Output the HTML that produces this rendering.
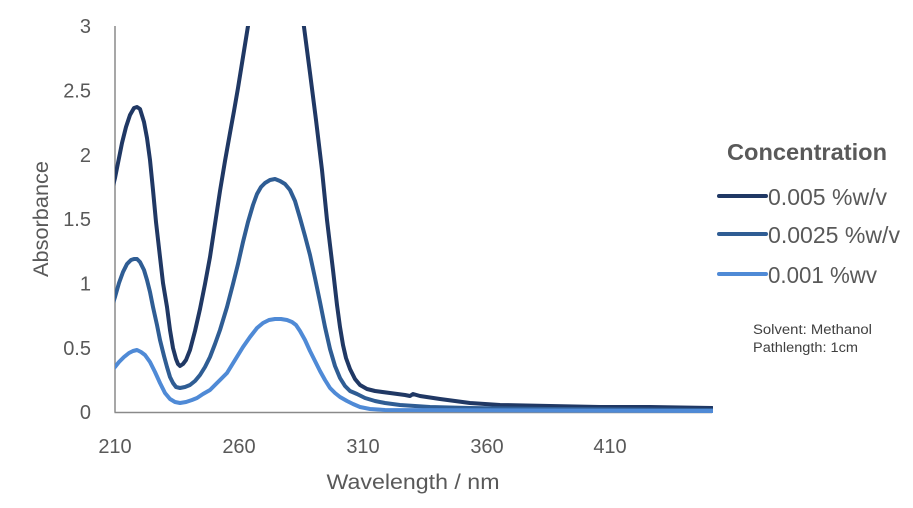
<!DOCTYPE html>
<html>
<head>
<meta charset="utf-8">
<style>
html,body{margin:0;padding:0;background:#fff;}
svg{display:block;}
text{font-family:"Liberation Sans",sans-serif;fill:#595959;}
</style>
</head>
<body>
<svg width="913" height="508" viewBox="0 0 913 508" xmlns="http://www.w3.org/2000/svg">
<rect width="913" height="508" fill="#fff"/>
<defs>
<clipPath id="pa"><rect x="115" y="26" width="598" height="395"/></clipPath>
</defs>

<!-- axes -->
<line x1="115" y1="26" x2="115" y2="412.5" stroke="#8a8a8a" stroke-width="1.5"/>
<line x1="114.5" y1="412.5" x2="712" y2="412.5" stroke="#8a8a8a" stroke-width="1.5"/>

<!-- y tick labels -->
<g font-size="20" text-anchor="end">
<text x="91" y="33">3</text>
<text x="91" y="97.5">2.5</text>
<text x="91" y="162">2</text>
<text x="91" y="226">1.5</text>
<text x="91" y="290.5">1</text>
<text x="91" y="355">0.5</text>
<text x="91" y="419">0</text>
</g>

<!-- x tick labels -->
<g font-size="20" text-anchor="middle">
<text x="115" y="453">210</text>
<text x="239" y="453">260</text>
<text x="363" y="453">310</text>
<text x="487" y="453">360</text>
<text x="610" y="453">410</text>
</g>

<text x="413" y="489" font-size="21" text-anchor="middle" textLength="173" lengthAdjust="spacingAndGlyphs">Wavelength / nm</text>
<text transform="translate(48,219) rotate(-90)" font-size="21" text-anchor="middle" textLength="116" lengthAdjust="spacingAndGlyphs">Absorbance</text>

<!-- series -->
<g clip-path="url(#pa)" fill="none" stroke-width="4" stroke-linejoin="round" stroke-linecap="round">
<polyline stroke="#203864" points="113,186 115,178 118,163 122,143 126,127 130,115 134,108 137,107 140,109 144,122 147,138 150,160 153,190 156,222 160,257 163,283 167,307 170,330 173,348 176,359 178,364 180,366 183,364 186,360 190,350 195,331 200,309 205,284 210,257 215,224 220,191 225,161 230,133 234,111 238,88 243,57 248,26 253,-8 260,-40 268,-55 276,-58 285,-52 293,-35 299,-8 304,27 310,73 316,120 322,170 327,220 333,270 337,305 340,327 343,345 346,358 350,369 355,379 360,385 367,389 375,391 390,393 405,395 410,396 413,394 420,396 440,399 470,403 500,405 550,406 600,407 650,407 712,408"/>
<polyline stroke="#2F5D94" points="113,303 115,297 119,283 123,272 127,264 131,260 134,259 137,259 140,262 144,270 147,280 150,292 153,307 157,325 160,340 164,356 167,367 170,377 173,383 176,387 180,388 185,387 190,385 195,381 200,375 205,367 210,357 215,344 220,330 227,307 233,284 238,264 243,242 248,222 253,205 257,194 261,187 265,183 270,180 275,179 280,181 285,184 290,190 295,201 300,218 305,236 310,255 315,278 320,302 325,327 330,349 335,366 340,378 345,386 350,391 357,394 365,398 375,401 385,403 400,405 430,407 470,408 550,409 712,410"/>
<polyline stroke="#4F8AD6" points="113,369 115,367 119,362 124,357 129,353 133,351 137,350 141,352 145,355 150,362 155,372 160,383 165,393 170,399 175,402 180,403 186,402 192,400 197,398 203,394 210,390 218,382 227,373 235,360 243,347 250,337 257,328 263,323 269,320 275,319 281,319 287,320 292,322 296,325 300,331 305,340 310,351 315,361 320,371 325,380 330,388 335,393 340,397 347,401 353,404 360,407 370,409 385,410 712,411"/>
</g>

<!-- legend -->
<text x="727" y="160" font-size="23" font-weight="bold" textLength="160" lengthAdjust="spacingAndGlyphs">Concentration</text>
<g stroke-width="4" stroke-linecap="round">
<line x1="719" y1="196" x2="766" y2="196" stroke="#203864"/>
<line x1="719" y1="234" x2="766" y2="234" stroke="#2F5D94"/>
<line x1="719" y1="274" x2="766" y2="274" stroke="#4F8AD6"/>
</g>
<g font-size="23">
<text x="768" y="205" textLength="119" lengthAdjust="spacingAndGlyphs">0.005 %w/v</text>
<text x="768" y="243" textLength="132" lengthAdjust="spacingAndGlyphs">0.0025 %w/v</text>
<text x="768" y="283" textLength="109" lengthAdjust="spacingAndGlyphs">0.001 %wv</text>
</g>
<g font-size="13.5">
<text x="753" y="334" textLength="119" lengthAdjust="spacingAndGlyphs" style="fill:#404040">Solvent: Methanol</text>
<text x="753" y="352" textLength="105" lengthAdjust="spacingAndGlyphs" style="fill:#404040">Pathlength: 1cm</text>
</g>
</svg>
</body>
</html>
